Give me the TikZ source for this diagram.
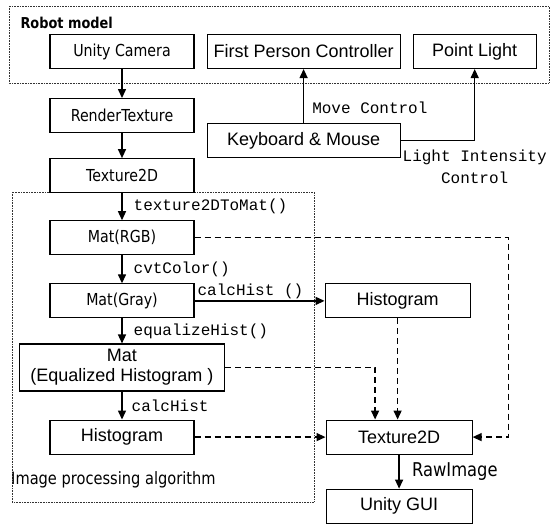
\documentclass[tikz,border=0pt]{standalone}
\usepackage{fontspec}
\setmainfont{Liberation Sans}
\newfontfamily\tahomafont{DejaVu Sans}[FakeStretch=0.86]
\newfontfamily\codefont{Liberation Mono}
\usetikzlibrary{arrows.meta, positioning, calc}

\begin{document}
\begin{tikzpicture}[
    x=1pt, y=1pt,
    node distance=27pt and 12pt,
    box/.style={rectangle, draw=black, line width=1.1pt, inner sep=2pt,
    minimum width=144pt, minimum height=34pt,
    font=\fontsize{18}{20}\selectfont},
    tbox/.style={box, font=\tahomafont\fontsize{16.5}{18}\selectfont},
    arrow/.style={-{Triangle[width=8pt, length=9pt]}, line width=1.3pt},
    dasharrow/.style={arrow, dash pattern=on 6pt off 4pt},
    frame/.style={draw=black!80, densely dotted, line width=0.6pt},
    codelabel/.style={font=\codefont\fontsize{16}{22}\selectfont, inner sep=1pt} ]

    \useasboundingbox (0,0) rectangle (550,-526);

    % Frames of the two groups
    \draw[frame] (9,-6) rectangle (549,-83);
    \node[anchor=west, font=\tahomafont\bfseries\fontsize{15}{17}\selectfont]
        (robotlbl) at (17,-23) {Robot model};
    \draw[frame] (12,-192) rectangle (314,-502);
    \node[anchor=west, font=\tahomafont\fontsize{17}{19}\selectfont, inner sep=0pt]
        (imglbl) at (11,-480) {Image processing algorithm};

    % Left column, camera to histogram
    \node[tbox] (camera) at (122,-51.5) {Unity Camera};
    \node[tbox, below=29pt of camera] (render) {RenderTexture};
    \node[tbox, below=25pt of render] (tex) {Texture2D};
    \node[tbox, below=27pt of tex] (rgb) {Mat(RGB)};
    \node[tbox, below=28pt of rgb] (gray) {Mat(Gray)};
    \node[box, below=25pt of gray, minimum width=205pt, minimum height=47pt,
        align=center] (eqmat) {Mat\\(Equalized Histogram )};
    \node[box, below=28pt of eqmat] (histL) {Histogram};

    % Controls of the robot model
    \node[box, right=12pt of camera, minimum width=193pt] (fpc) {First Person Controller};
    \node[box, right=12pt of fpc, minimum width=123pt] (light) {Point Light};
    \node[box, below=54pt of fpc, minimum width=193pt] (keys) {Keyboard \& Mouse};

    % Right column, output
    \node[box, right=130pt of gray, minimum width=145pt] (histR) {Histogram};
    \node[box, right=131pt of histL, minimum width=146pt] (texR) {Texture2D};
    \node[box, below=34pt of texR, minimum width=146pt] (gui) {Unity GUI};

    % Processing steps
    \draw[arrow] (camera) -- (render);
    \draw[arrow] (render) -- (tex);
    \draw[arrow] (tex) -- node[codelabel, right=10pt] {texture2DToMat()} (rgb);
    \draw[arrow] (rgb) -- node[codelabel, right=10pt] {cvtColor()} (gray);
    \draw[arrow] (gray) -- node[codelabel, right=10pt] {equalizeHist()} (eqmat);
    \draw[arrow] (eqmat) -- node[codelabel, right=8pt] {calcHist} (histL);
    \draw[arrow] (gray) -- node[codelabel, above, pos=0.43] {calcHist ()} (histR);
    \draw[arrow] (texR) -- node[right=9pt, font=\tahomafont\fontsize{19}{21}\selectfont]
        {RawImage} (gui);

    % Keyboard and mouse
    \draw[arrow] (keys) -- node[codelabel, right=7pt, pos=0.28] {Move Control} (fpc);
    \draw[arrow] (keys.east) -| node[codelabel, pos=0.5, below=8pt, align=center]
        {Light Intensity\\Control} (light.south);

    % Images passed on to the texture
    \coordinate (rgbturn) at ($(texR.east)+(36,0)$);
    \draw[dasharrow] (rgb.east) -| (rgbturn) -- (texR.east);
    \coordinate (eqdrop) at ($(texR.north)+(-24,0)$);
    \draw[dasharrow] (eqmat.east) -| (eqdrop);
    \draw[dasharrow] (histR) -- (histR.south |- texR.north);
    \draw[dasharrow] (histL) -- (texR);

\end{tikzpicture}
\end{document}
